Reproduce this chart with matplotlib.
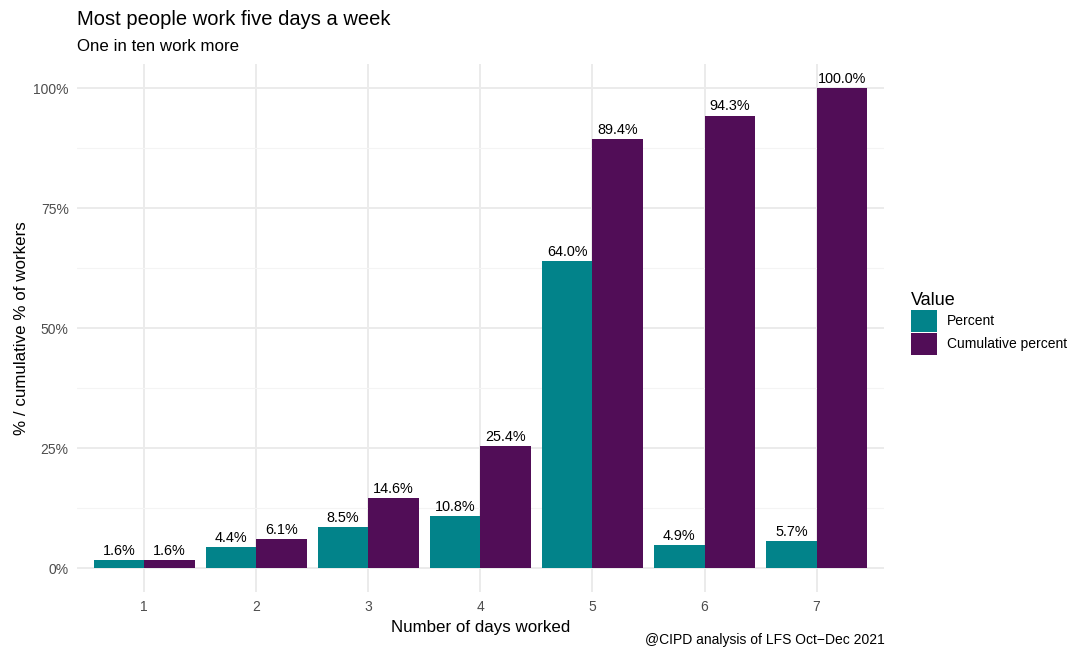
import numpy as np
import matplotlib.pyplot as plt
from matplotlib.patches import Patch
from matplotlib.ticker import MultipleLocator

plt.rcParams['font.family'] = ['Liberation Sans', 'DejaVu Sans']

days = ['1', '2', '3', '4', '5', '6', '7']
percent = [1.6, 4.4, 8.5, 10.8, 64.0, 4.9, 5.7]
cumulative = [1.6, 6.1, 14.6, 25.4, 89.4, 94.3, 100.0]
series_names = ['Percent', 'Cumulative percent']
colours = ['#02838A', '#510D57']

fig = plt.figure(figsize=(10.7, 6.55), dpi=100)
ax = fig.add_axes([0.072, 0.096, 0.754, 0.806])

x = np.arange(1, len(days) + 1)
w = 0.45
for vals, off, col in [(percent, -w / 2, colours[0]), (cumulative, w / 2, colours[1])]:
    bars = ax.bar(x + off, vals, width=w, color=col, zorder=3)
    for b, v in zip(bars, vals):
        ax.annotate(f'{v:.1f}%', (b.get_x() + b.get_width() / 2, v),
                    xytext=(0, 1.5), textcoords='offset points',
                    ha='center', va='bottom', fontsize=10.4, color='black', zorder=4)

ax.set_xlim(0.4, 7.6)
ax.set_ylim(-5, 105)
ax.set_xticks(x)
ax.set_xticklabels(days)
ax.yaxis.set_major_locator(MultipleLocator(25))
ax.yaxis.set_minor_locator(MultipleLocator(12.5))
ax.set_yticks([0, 25, 50, 75, 100])
ax.set_yticklabels(['0%', '25%', '50%', '75%', '100%'])

ax.grid(which='major', color='#EBEBEB', linewidth=1.4, zorder=0)
ax.grid(which='minor', axis='y', color='#F4F4F4', linewidth=0.8, zorder=0)
for s in ax.spines.values():
    s.set_visible(False)
ax.tick_params(which='both', length=0, labelsize=10, labelcolor='#4D4D4D', pad=6)

ax.set_xlabel('Number of days worked', fontsize=12.2, labelpad=4)
ax.set_ylabel('% / cumulative % of workers', fontsize=12.2, labelpad=3)

fig.text(0.072, 0.955, 'Most people work five days a week', fontsize=14.5, va='bottom')
fig.text(0.072, 0.917, 'One in ten work more', fontsize=12.2, va='bottom')
fig.text(0.827, 0.012, '@CIPD analysis of LFS Oct\u2212Dec 2021', fontsize=10, ha='right', va='bottom')

handles = [Patch(facecolor=c, label=n) for c, n in zip(colours, series_names)]
leg = fig.legend(handles=handles, title='Value', loc='upper left',
                 bbox_to_anchor=(0.845, 0.565), frameon=False, fontsize=10,
                 title_fontsize=13, handlelength=1.85, handleheight=2.1,
                 labelspacing=0.05, handletextpad=0.72, borderpad=0)
leg._legend_box.align = 'left'

fig.savefig('out.png', dpi=100)
